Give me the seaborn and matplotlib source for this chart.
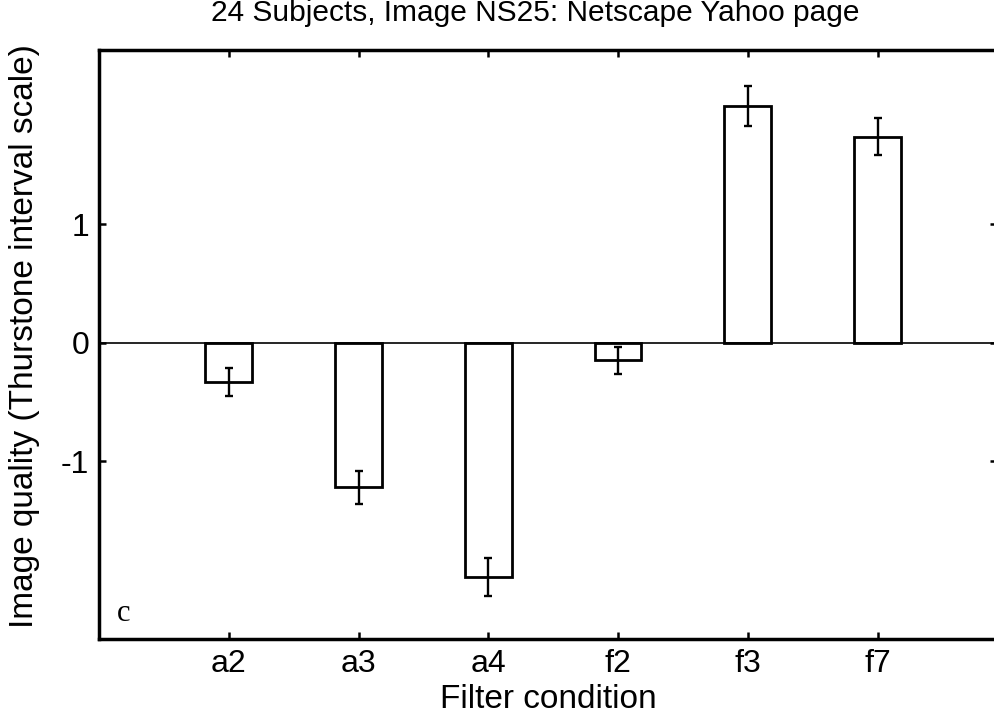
import matplotlib
matplotlib.use("Agg")
import matplotlib.pyplot as plt
import seaborn as sns
import pandas as pd

categories = ["a2", "a3", "a4", "f2", "f3", "f7"]
values = [-0.33, -1.22, -1.98, -0.15, 2.00, 1.74]
errors = [0.12, 0.14, 0.16, 0.11, 0.17, 0.16]
ytick_vals = [-1, 0, 1]

sns.set_theme(style="white")
plt.rcParams['font.family'] = ['Liberation Sans', 'DejaVu Sans']

df = pd.DataFrame({"cond": categories, "val": values})

W, H = 994, 720
fig = plt.figure(figsize=(W / 100, H / 100), dpi=100)
left, right, top, bottom = 99, 997, 50, 639
ax = fig.add_axes([left / W, 1 - bottom / H, (right - left) / W, (bottom - top) / H])

sns.barplot(data=df, x="cond", y="val", ax=ax, color="white",
            edgecolor="black", linewidth=2.0, width=0.36, errorbar=None, saturation=1)
ax.errorbar(range(len(categories)), values, yerr=errors, fmt="none",
            ecolor="black", elinewidth=1.7, capsize=3, capthick=1.7, zorder=5)

ax.axhline(0, color="black", linewidth=1.2, zorder=1)
ax.set_xlim(-1, 5.92)
ax.set_ylim(-2.5, 2.47)
ax.set_yticks(ytick_vals)
ax.set_yticklabels([str(v) for v in ytick_vals])
ax.tick_params(axis="both", direction="in", length=5, width=1.8, color="black",
               labelsize=23, labelcolor="black", top=True, right=True, bottom=True,
               left=True, pad=7)
for s in ax.spines.values():
    s.set_visible(True)
    s.set_color("black")
    s.set_linewidth(2.5)

ax.set_xlabel("Filter condition", fontsize=24, labelpad=4, color="black")
ax.set_ylabel("")
fig.text(25 / W, 1 - 336 / H, "Image quality (Thurstone interval scale)",
         rotation=90, ha="center", va="center", fontsize=24, color="black")

ax.text(0.02, 0.018, "c", transform=ax.transAxes, fontsize=22,
        family=["Liberation Serif", "DejaVu Serif"],
        ha="left", va="bottom", color="black")

fig.text(535 / W, 1 - 13 / H, "24 Subjects, Image NS25: Netscape Yahoo page",
         ha="center", va="center", fontsize=21.5, color="black")

fig.savefig("out.png", dpi=100)
